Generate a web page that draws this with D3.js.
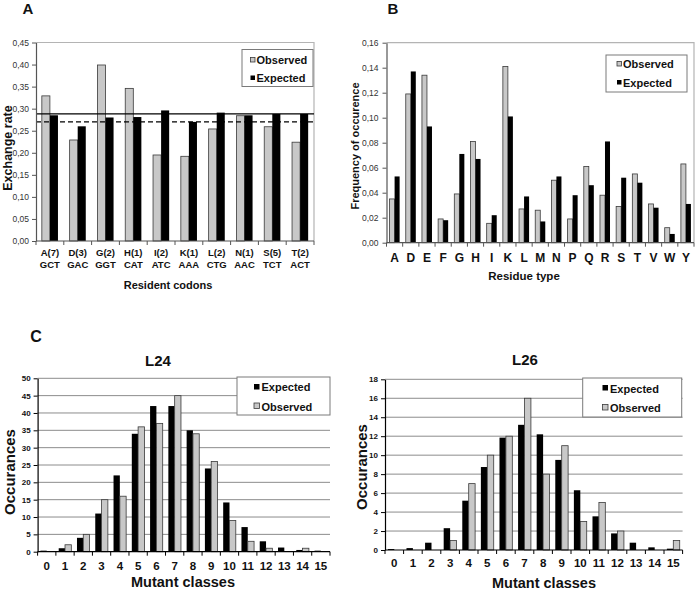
<!DOCTYPE html>
<html>
<head>
<meta charset="utf-8">
<script src="https://cdn.jsdelivr.net/npm/d3@7/dist/d3.min.js"></script>
<style>
html,body{margin:0;padding:0;background:#fff;}
svg{display:block;font-family:"Liberation Sans",Arial,Helvetica,sans-serif;}
</style>
</head>
<body>
<svg id="chart" width="695" height="591"></svg>
<script>
// ---------- Panel A data ----------
const codonsTop = ["A(7)","D(3)","G(2)","H(1)","I(2)","K(1)","L(2)","N(1)","S(5)","T(2)"];
const codonsBottom = ["GCT","GAC","GGT","CAT","ATC","AAA","CTG","AAC","TCT","ACT"];
const aObserved = [0.329,0.229,0.399,0.346,0.195,0.192,0.254,0.284,0.259,0.224];
const aExpected = [0.285,0.260,0.280,0.281,0.296,0.270,0.291,0.285,0.288,0.288];
const aSolidLine = 0.288;
const aDashedLine = 0.270;
const aTicks = [0,0.05,0.10,0.15,0.20,0.25,0.30,0.35,0.40,0.45];

// ---------- Panel B data ----------
const residues = ["A","D","E","F","G","H","I","K","L","M","N","P","Q","R","S","T","V","W","Y"];
const bObserved = [0.035,0.119,0.134,0.019,0.039,0.081,0.0155,0.141,0.027,0.026,0.050,0.019,0.061,0.038,0.029,0.055,0.031,0.012,0.063];
const bExpected = [0.053,0.137,0.093,0.018,0.071,0.067,0.022,0.101,0.037,0.017,0.053,0.038,0.046,0.081,0.052,0.048,0.028,0.007,0.031];
const bTicks = [0,0.02,0.04,0.06,0.08,0.10,0.12,0.14,0.16];

// ---------- Panel C data ----------
const mutantClasses = ["0","1","2","3","4","5","6","7","8","9","10","11","12","13","14","15"];
const l24Expected = [0.3,1,4,11,22,34,42,42,35,24,14.2,7.1,3,1.2,0.5,0.3];
const l24Observed = [0,2,5,15,16,36,37,45,34,26,9,3,1,0,1,0];
const l24Ticks = [0,5,10,15,20,25,30,35,40,45,50];
const l26Expected = [0.1,0.2,0.77,2.3,5.2,8.75,11.85,13.2,12.2,9.5,6.3,3.55,1.75,0.77,0.28,0.14];
const l26Observed = [0,0,0,1,7,10,12,16,8,11,3,5,2,0,0,1];
const l26Ticks = [0,2,4,6,8,10,12,14,16,18];

const GRAY = "#c8c8c8", GRAY_STROKE = "#3a3a3a", BLACK = "#000";
const svg = d3.select("#chart");
const commaFmt = d3.format(".2f");
const fmtComma = v => commaFmt(v).replace(".", ",");

function barPanel(cfg) {
  const g = svg.append("g");
  const x = d3.scaleBand().domain(cfg.cats).range([cfg.x0, cfg.x1])
    .paddingInner(cfg.pad).paddingOuter(cfg.pad / 2);
  const keys = cfg.series.map(s => s.key);
  const xs = d3.scaleBand().domain(keys).range([0, x.bandwidth()]);
  const y = d3.scaleLinear().domain(cfg.yDomain).range([cfg.yBottom, cfg.yTop]);

  if (cfg.grid) {
    g.append("g").selectAll("line").data(cfg.ticks.filter(t => t > 0)).join("line")
      .attr("x1", cfg.x0).attr("x2", cfg.x1)
      .attr("y1", d => y(d)).attr("y2", d => y(d))
      .attr("stroke", "#8c8c8c").attr("stroke-width", 1);
  }
  if (cfg.frame) {
    g.append("path")
      .attr("d", `M${cfg.x0},${y(cfg.yDomain[1])}H${cfg.x1}V${y(cfg.yDomain[0])}`)
      .attr("fill", "none").attr("stroke", "#b4b4b4").attr("stroke-width", 1.2);
  }
  cfg.series.forEach(s => {
    g.append("g").selectAll("rect").data(cfg.cats.map((c, i) => ({c, v: s.values[i]}))).join("rect")
      .attr("x", d => x(d.c) + xs(s.key))
      .attr("width", xs.bandwidth())
      .attr("y", d => y(d.v))
      .attr("height", d => y(0) - y(d.v))
      .attr("fill", s.fill)
      .attr("stroke", s.stroke)
      .attr("stroke-width", s.stroke === "none" ? 0 : 0.8);
  });
  (cfg.refLines || []).forEach(r => {
    g.append("line").attr("x1", cfg.x0).attr("x2", cfg.x1)
      .attr("y1", y(r.v)).attr("y2", y(r.v))
      .attr("stroke", "#000").attr("stroke-width", 1.3)
      .attr("stroke-dasharray", r.dash || null);
  });
  const ya = g.append("g").attr("transform", `translate(${cfg.x0},0)`)
    .call(d3.axisLeft(y).tickValues(cfg.ticks).tickFormat(cfg.fmt)
      .tickSize(cfg.tickLen).tickSizeOuter(0).tickPadding(cfg.tickPad));
  ya.select(".domain").attr("stroke", cfg.axisColor).attr("stroke-width", 1.2);
  ya.selectAll(".tick line").attr("stroke", cfg.axisColor);
  ya.selectAll(".tick text").attr("font-size", cfg.yFont).attr("font-weight", cfg.yBold ? "bold" : "normal")
    .attr("fill", cfg.yTextColor).style("font-family", "inherit");
  g.append("line").attr("x1", cfg.x0).attr("x2", cfg.x1)
    .attr("y1", y(0)).attr("y2", y(0)).attr("stroke", cfg.axisColor).attr("stroke-width", 1.2);
  g.append("g").selectAll("line").data(d3.range(cfg.cats.length + 1)).join("line")
    .attr("x1", i => x.range()[0] + i * x.step()).attr("x2", i => x.range()[0] + i * x.step())
    .attr("y1", y(0)).attr("y2", y(0) + 4).attr("stroke", cfg.axisColor).attr("stroke-width", 1);
  const lab = g.append("g").attr("font-weight", "bold").attr("font-size", cfg.catFont)
    .attr("text-anchor", "middle").attr("fill", "#111");
  cfg.catLines.forEach((line, li) => {
    lab.append("g").selectAll("text").data(cfg.cats).join("text")
      .attr("x", d => x(d) + x.bandwidth() / 2)
      .attr("y", cfg.catBaselines[li])
      .text((d, i) => line[i]);
  });
  return {x, y};
}

function legend(cfg) {
  const g = svg.append("g");
  g.append("rect").attr("x", cfg.x).attr("y", cfg.y).attr("width", cfg.w).attr("height", cfg.h)
    .attr("fill", "#fff").attr("stroke", "#7a7a7a").attr("stroke-width", 1);
  cfg.items.forEach((it, i) => {
    g.append("rect").attr("x", cfg.mx).attr("y", cfg.my[i]).attr("width", cfg.ms).attr("height", cfg.ms)
      .attr("fill", it.fill).attr("stroke", it.stroke).attr("stroke-width", it.stroke === "none" ? 0 : 0.8);
    g.append("text").attr("x", cfg.tx).attr("y", cfg.ty[i]).attr("font-size", cfg.font)
      .attr("font-weight", "bold").attr("fill", "#111").text(it.label);
  });
}

function text(x, y, s, size, opts = {}) {
  const t = svg.append("text").attr("x", x).attr("y", y).attr("font-size", size)
    .attr("font-weight", "bold").attr("fill", "#111")
    .attr("text-anchor", opts.anchor || "middle").text(s);
  if (opts.rotate) t.attr("transform", `rotate(-90,${x},${y})`);
  return t;
}

// ---------- Panel A ----------
barPanel({
  cats: codonsTop, x0: 36, x1: 314, yTop: 42.5, yBottom: 241, yDomain: [0, 0.45],
  pad: 0.42, ticks: aTicks, fmt: fmtComma, tickLen: 4, tickPad: 3, yFont: 8.5, yBold: false,
  yTextColor: "#333", axisColor: "#555", frame: true, grid: false,
  refLines: [{v: aSolidLine}, {v: aDashedLine, dash: "5,3"}],
  series: [{key: "obs", values: aObserved, fill: GRAY, stroke: GRAY_STROKE},
           {key: "exp", values: aExpected, fill: BLACK, stroke: "none"}],
  catLines: [codonsTop, codonsBottom], catBaselines: [256, 267.5], catFont: 9.5
});
legend({x: 242, y: 49.5, w: 71, h: 37, mx: 250.5, my: [57.5, 75.5], ms: 4.5, tx: 256.5, ty: [63.5, 81.5], font: 11,
  items: [{label: "Observed", fill: GRAY, stroke: GRAY_STROKE}, {label: "Expected", fill: BLACK, stroke: "none"}]});
text(28, 14, "A", 15);
text(11.5, 148, "Exchange rate", 12.5, {rotate: true});
text(168, 289, "Resident codons", 11);

// ---------- Panel B ----------
barPanel({
  cats: residues, x0: 386.5, x1: 694, yTop: 42.7, yBottom: 242.7, yDomain: [0, 0.16],
  pad: 0.38, ticks: bTicks, fmt: fmtComma, tickLen: 4, tickPad: 4, yFont: 8.5, yBold: false,
  yTextColor: "#333", axisColor: "#555", frame: true, grid: false,
  series: [{key: "obs", values: bObserved, fill: GRAY, stroke: GRAY_STROKE},
           {key: "exp", values: bExpected, fill: BLACK, stroke: "none"}],
  catLines: [residues], catBaselines: [261.5], catFont: 12
});
legend({x: 606, y: 55, w: 81, h: 37, mx: 617, my: [61.5, 80], ms: 4.5, tx: 623, ty: [68, 87], font: 11,
  items: [{label: "Observed", fill: GRAY, stroke: GRAY_STROKE}, {label: "Expected", fill: BLACK, stroke: "none"}]});
text(393, 14, "B", 15);
text(359, 146, "Frequency of occurence", 11, {rotate: true});
text(524, 280, "Residue type", 11.5);

// ---------- Panel C : L24 ----------
barPanel({
  cats: mutantClasses, x0: 37.6, x1: 330, yTop: 378.3, yBottom: 551.7, yDomain: [0, 50],
  pad: 0.31, ticks: l24Ticks, fmt: d3.format("d"), tickLen: 4, tickPad: 3, yFont: 8, yBold: true,
  yTextColor: "#111", axisColor: "#000", frame: false, grid: true,
  series: [{key: "exp", values: l24Expected, fill: BLACK, stroke: "none"},
           {key: "obs", values: l24Observed, fill: GRAY, stroke: GRAY_STROKE}],
  catLines: [mutantClasses], catBaselines: [570], catFont: 11.5
});
legend({x: 237, y: 377, w: 93, h: 38, mx: 254, my: [384, 403], ms: 5.5, tx: 261.5, ty: [391, 410.5], font: 11,
  items: [{label: "Expected", fill: BLACK, stroke: "none"}, {label: "Observed", fill: GRAY, stroke: GRAY_STROKE}]});
text(36, 342, "C", 16);
text(158, 366, "L24", 15);
text(15, 472, "Occurances", 15, {rotate: true});
text(183, 586.5, "Mutant classes", 14.5);

// ---------- Panel C : L26 ----------
barPanel({
  cats: mutantClasses, x0: 385, x1: 682.6, yTop: 379.3, yBottom: 550, yDomain: [0, 18],
  pad: 0.31, ticks: l26Ticks, fmt: d3.format("d"), tickLen: 4, tickPad: 3, yFont: 8, yBold: true,
  yTextColor: "#111", axisColor: "#000", frame: false, grid: true,
  series: [{key: "exp", values: l26Expected, fill: BLACK, stroke: "none"},
           {key: "obs", values: l26Observed, fill: GRAY, stroke: GRAY_STROKE}],
  catLines: [mutantClasses], catBaselines: [567], catFont: 11.5
});
legend({x: 582.7, y: 378, w: 99, h: 39, mx: 602.5, my: [385, 404.5], ms: 5.5, tx: 610, ty: [392.5, 412], font: 11,
  items: [{label: "Expected", fill: BLACK, stroke: "none"}, {label: "Observed", fill: GRAY, stroke: GRAY_STROKE}]});
text(525, 365, "L26", 15);
text(367, 467, "Occurances", 15, {rotate: true});
text(544, 587.5, "Mutant classes", 14.5);
</script>
</body>
</html>
